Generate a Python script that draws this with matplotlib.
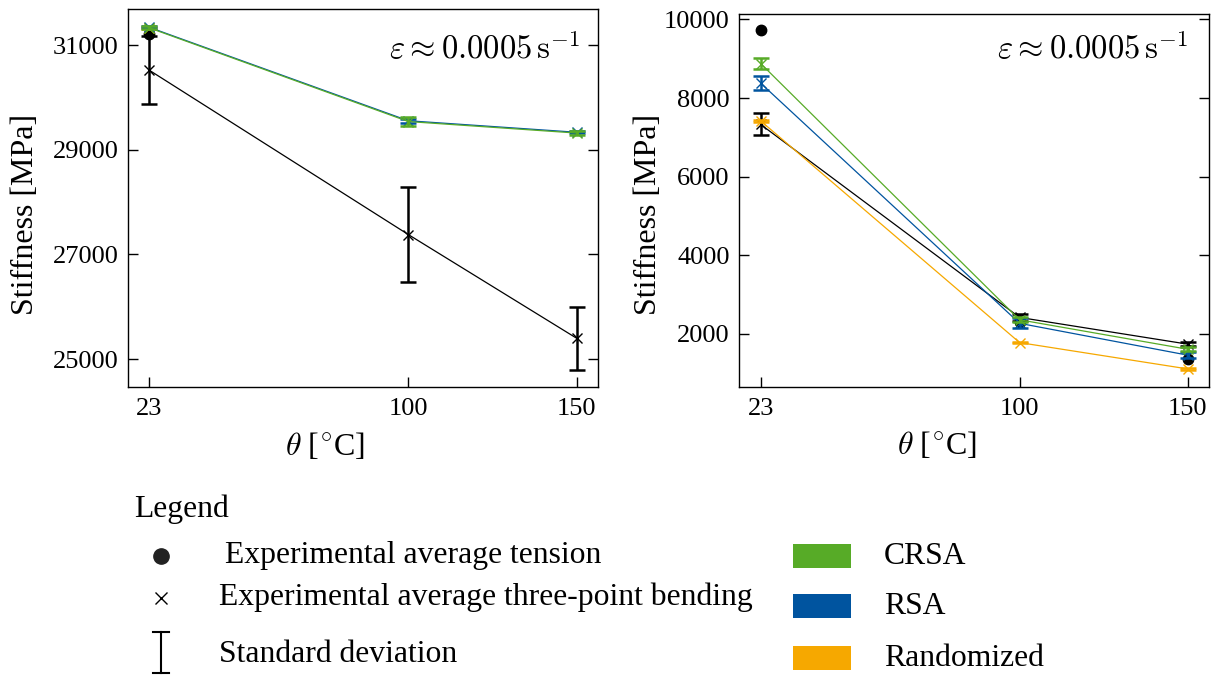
import numpy as np
import matplotlib
matplotlib.use("Agg")
import matplotlib.pyplot as plt
from matplotlib.patches import Rectangle

plt.rcParams['font.family'] = ['Liberation Serif', 'DejaVu Serif']
plt.rcParams['mathtext.fontset'] = 'cm'

temps = [23, 100, 150]

# Left panel
L_bend = [30520, 27380, 25400]
L_bend_sd = [650, 910, 605]
L_tens_x = [23]
L_tens = [31210]
L_crsa = [31330, 29540, 29320]
L_crsa_sd = [30, 80, 40]
L_rsa = [31340, 29555, 29335]
L_rsa_sd = [20, 40, 20]
L_rand = [31330, np.nan, np.nan]
L_rand_sd = [20, np.nan, np.nan]

# Right panel
R_bend = [7330, 2420, 1740]
R_bend_sd = [280, 80, 50]
R_tens_x = [23, 100, 150]
R_tens = [9720, 2300, 1360]
R_crsa = [8880, 2360, 1610]
R_crsa_sd = [140, 60, 50]
R_rsa = [8380, 2270, 1460]
R_rsa_sd = [180, 130, 70]
R_rand = [7420, 1780, 1110]
R_rand_sd = [30, 20, 20]

C_GREEN = '#57AB27'
C_BLUE = '#00549F'
C_ORANGE = '#F6A800'

fig = plt.figure(figsize=(12.11, 6.76), dpi=100)
axL = fig.add_axes([0.1057, 0.4275, 0.388, 0.559])
axR = fig.add_axes([0.6105, 0.428, 0.3879, 0.552])

def draw(ax, bend, bend_sd, tx, tens, crsa, crsa_sd, rsa, rsa_sd, rand, rand_sd):
    ekw = dict(elinewidth=1.8, capsize=6, capthick=1.8)
    ax.errorbar(temps, rand, yerr=rand_sd, color=C_ORANGE, marker='x', ms=6.5,
                lw=0.9, **ekw, zorder=2)
    ax.errorbar(temps, rsa, yerr=rsa_sd, color=C_BLUE, marker='x', ms=6.5,
                lw=0.9, **ekw, zorder=3)
    ax.errorbar(temps, crsa, yerr=crsa_sd, color=C_GREEN, marker='x', ms=6.5,
                lw=0.9, **ekw, zorder=4)
    ax.errorbar(temps, bend, yerr=bend_sd, color='black', marker='x', ms=6.5,
                lw=0.9, **ekw, zorder=1)
    ax.plot(tx, tens, 'o', color='black', ms=7.5, zorder=1.5, linestyle='none')
    ax.set_xticks(temps)
    ax.tick_params(direction='in', length=7, width=1, labelsize=19, pad=7,
                   left=True, right=True)
    ax.tick_params(axis='x', pad=8)
    for s in ax.spines.values():
        s.set_linewidth(1)
    ax.set_ylabel('Stiffness [MPa]', fontsize=23)
    ax.set_xlabel(r'$\theta$ [$^{\circ}$C]', fontsize=23)

draw(axL, L_bend, L_bend_sd, L_tens_x, L_tens, L_crsa, L_crsa_sd, L_rsa, L_rsa_sd, L_rand, L_rand_sd)
draw(axR, R_bend, R_bend_sd, R_tens_x, R_tens, R_crsa, R_crsa_sd, R_rsa, R_rsa_sd, R_rand, R_rand_sd)

axL.set_yticks([25000, 27000, 29000, 31000])
axR.set_yticks([2000, 4000, 6000, 8000, 10000])

axL.text(0.962, 0.895, r'$\varepsilon \approx 0.0005\,\mathrm{s}^{-1}$', transform=axL.transAxes,
         ha='right', va='center', fontsize=23.5)
axR.text(0.955, 0.905, r'$\varepsilon \approx 0.0005\,\mathrm{s}^{-1}$', transform=axR.transAxes,
         ha='right', va='center', fontsize=23.5)

axL.yaxis.set_label_coords(-0.187, 0.458)
axR.yaxis.set_label_coords(-0.163, 0.462)
axL.xaxis.set_label_coords(0.42, -0.117)
axR.xaxis.set_label_coords(0.42, -0.117)

# Legend region (pixel coordinates of figure)
lg = fig.add_axes([0, 0, 1, 1], zorder=-1)
lg.set_xlim(0, 1211)
lg.set_ylim(676, 0)
lg.axis('off')
fs = 22.8
lg.text(134, 509, 'Legend', fontsize=fs, va='center', ha='left')
lg.plot([161], [556], 'o', color='#222222', ms=11)
lg.text(225, 555, 'Experimental average tension', fontsize=fs, va='center')
lg.plot([161], [598], 'x', color='black', ms=9, mew=1)
lg.text(219, 597, 'Experimental average three-point bending', fontsize=fs, va='center')
lg.plot([161, 161], [632, 673], color='black', lw=1.5)
lg.plot([153, 169], [632, 632], color='black', lw=1.5)
lg.plot([153, 169], [673, 673], color='black', lw=1.5)
lg.text(219, 654, 'Standard deviation', fontsize=fs, va='center')

for yc, col, lab in [(556, C_GREEN, 'CRSA'), (606, C_BLUE, 'RSA'), (658, C_ORANGE, 'Randomized')]:
    lg.add_patch(Rectangle((793, yc - 12), 58, 24, color=col, lw=0))
    lg.text(884, yc, lab, fontsize=fs, va='center')

fig.savefig('out.png', dpi=100)
